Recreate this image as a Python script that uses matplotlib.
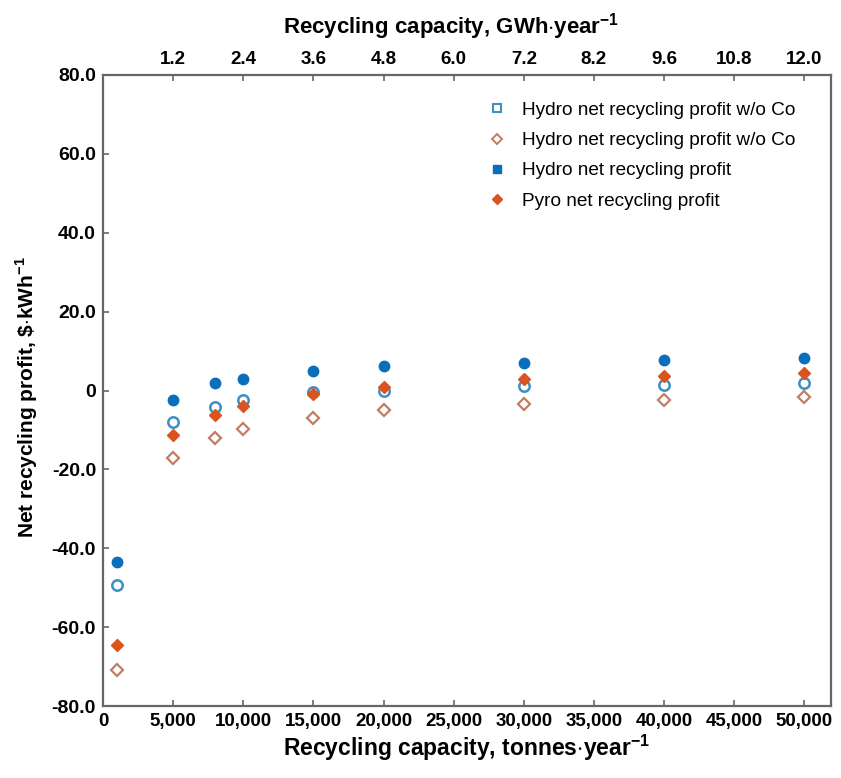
import matplotlib
matplotlib.use("Agg")
import matplotlib.pyplot as plt
from matplotlib.lines import Line2D

plt.rcParams['font.family'] = ['Liberation Sans', 'DejaVu Sans']
plt.rcParams['mathtext.fontset'] = 'custom'
plt.rcParams['mathtext.rm'] = 'Liberation Sans'
plt.rcParams['mathtext.bf'] = 'Liberation Sans:bold'

# capacity, tonnes/year
capacity = [1000, 5000, 8000, 10000, 15000, 20000, 30000, 40000, 50000]

# net recycling profit, $/kWh
hydro_noco = [-49.3, -8.0, -4.1, -2.5, -0.4, -0.2, 1.1, 1.5, 1.9]
pyro_noco = [-70.8, -17.0, -12.0, -9.7, -7.0, -5.0, -3.5, -2.3, -1.6]
hydro = [-43.5, -2.3, 1.9, 3.0, 4.9, 6.2, 6.9, 7.7, 8.2]
pyro = [-64.6, -11.3, -6.1, -4.0, -0.9, 1.0, 2.8, 3.6, 4.4]

yticks = [80, 60, 40, 20, 0, -20, -40, -60, -80]
ytick_labels = ["80.0", "60.0", "40.0", "20.0", "0", "-20.0", "-40.0", "-60.0", "-80.0"]
xticks = [0, 5000, 10000, 15000, 20000, 25000, 30000, 35000, 40000, 45000, 50000]
top_ticks = [5000, 10000, 15000, 20000, 25000, 30000, 35000, 40000, 45000, 50000]
top_labels = ["1.2", "2.4", "3.6", "4.8", "6.0", "7.2", "8.2", "9.6", "10.8", "12.0"]

labels = ["Hydro net recycling profit w/o Co",
          "Hydro net recycling profit w/o Co",
          "Hydro net recycling profit",
          "Pyro net recycling profit"]

blue = "#0a6fba"
lightblue = "#3d8fc4"
orange = "#d9541e"
brown = "#c27d63"

fig = plt.figure(figsize=(8.41, 7.78), dpi=100)
ax = fig.add_axes([0.1225, 0.0925, 0.8655, 0.8111])

ms = 7.5
ax.plot(capacity, hydro_noco, 'o', ms=ms, mfc='white', mec=lightblue, mew=1.8, zorder=3)
ax.plot(capacity, pyro_noco, 'D', ms=ms - 1.5, mfc='white', mec=brown, mew=1.6, zorder=3)
ax.plot(capacity, hydro, 'o', ms=ms, color=blue, zorder=4)
ax.plot(capacity, pyro, 'D', ms=ms - 1, color=orange, zorder=4)

ax.set_xlim(0, 51900)
ax.set_ylim(-80, 80)
ax.set_yticks(yticks)
ax.set_yticklabels(ytick_labels)
ax.set_xticks(xticks)
ax.set_xticklabels([f"{v:,}" for v in xticks])

frame_col = "#666666"
for s in ax.spines.values():
    s.set_color(frame_col)
    s.set_linewidth(1.6)
ax.tick_params(direction='in', length=4, width=1.2, color=frame_col, pad=5)
ax.tick_params(axis='x', labelsize=13.5)
ax.tick_params(axis='y', labelsize=14)
for t in ax.get_xticklabels() + ax.get_yticklabels():
    t.set_fontweight('bold')

ax.set_xlabel(r"Recycling capacity, tonnes$\cdot$year$^{\mathbf{-1}}$",
              fontsize=16.5, fontweight='bold', labelpad=2)
ax.set_ylabel(r"Net recycling profit, \$$\cdot$kWh$^{\mathbf{-1}}$",
              fontsize=15, fontweight='bold')
ax.yaxis.set_label_coords(-0.086, 0.49)

top = ax.twiny()
top.set_xlim(ax.get_xlim())
top.set_xticks(top_ticks)
top.set_xticklabels(top_labels)
top.tick_params(direction='in', length=4, width=1.2, color=frame_col,
                labelsize=13.5, pad=5)
for t in top.get_xticklabels():
    t.set_fontweight('bold')
for s in top.spines.values():
    s.set_visible(False)
top.set_xlabel(r"Recycling capacity, GWh$\cdot$year$^{\mathbf{-1}}$",
               fontsize=16, fontweight='bold')
top.xaxis.set_label_coords(0.478, 1.066)

handles = [
    Line2D([], [], ls='none', marker='s', ms=5.5, mfc='white', mec=lightblue, mew=1.5),
    Line2D([], [], ls='none', marker='D', ms=5, mfc='white', mec=brown, mew=1.4),
    Line2D([], [], ls='none', marker='s', ms=5.5, color=blue),
    Line2D([], [], ls='none', marker='D', ms=5, color=orange),
]
ax.legend(handles, labels, loc='upper right', frameon=False, fontsize=13.7,
          handlelength=1.2, handletextpad=0.75, labelspacing=0.68,
          borderaxespad=0.5, bbox_to_anchor=(0.975, 0.985))

fig.savefig("out.png", dpi=100)
